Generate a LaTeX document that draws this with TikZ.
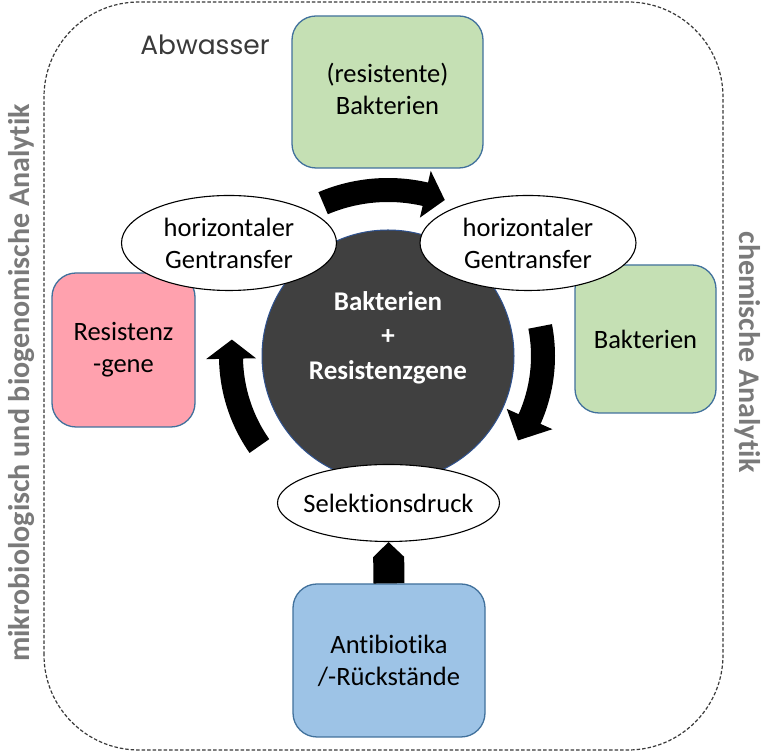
\documentclass[tikz,border=0pt]{standalone}
\usepackage{fontspec}
\setmainfont{Carlito}[Ligatures=NoCommon]
\newfontfamily\gothicfont{Poppins}
\usetikzlibrary{shapes.geometric,arrows.meta}
\definecolor{boxborder}{HTML}{41719C}
\definecolor{greenfill}{HTML}{C5E0B4}
\definecolor{pinkfill}{HTML}{FFA1AE}
\definecolor{bluefill}{HTML}{9DC3E6}
\definecolor{circlefill}{HTML}{404040}
\definecolor{circleborder}{HTML}{2F528F}
\definecolor{sidegray}{HTML}{7A7A7A}
\definecolor{dashgray}{HTML}{3A3A3A}
\newcommand{\curvedarrow}[7]{% center, a1 tail, a2 head base, a3 tip, R, half width, head half width
  \fill[black, shift={(#1)}] (#2:#5+#6) arc[start angle=#2, end angle=#3, radius=#5+#6]
    -- (#3:#5+#7) -- (#4:#5) -- (#3:#5-#7) -- (#3:#5-#6)
    arc[start angle=#3, end angle=#2, radius=#5-#6] -- cycle;}
\begin{document}
\begin{tikzpicture}[x=1pt,y=1pt,
  boxbase/.style={draw=boxborder, line width=1.3pt, rounded corners=24pt, align=center,
    inner sep=0pt, font=\fontsize{26.5}{32}\selectfont},
  ovalshape/.style={ellipse, draw=black, line width=1.1pt, fill=white, inner sep=0pt},
  ovaltext/.style={align=center, font=\fontsize{26.5}{32}\selectfont},
  sidetext/.style={text=sidegray, font=\bfseries\fontsize{30}{36}\selectfont}]
\useasboundingbox (0,0) rectangle (772,752);
\fill[white] (0,0) rectangle (772,752);
% dashed outer frame
\draw[dashgray, line width=1.2pt, dash pattern=on 3.5pt off 2pt, rounded corners=95pt]
  (44,2) rectangle (723,750);
\node[text=dashgray, font=\gothicfont\fontsize{26.5}{30}\selectfont] (abw) at (205,707) {Abwasser};
% side labels
\node[sidetext, rotate=90] (mikro) at (22,369) {mikrobiologisch und biogenomische Analytik};
\node[sidetext, rotate=-90] (chem) at (748,400) {chemische Analytik};
% boxes
\node[boxbase, fill=greenfill, minimum width=191pt, minimum height=152pt] (resbak) at (387.5,660) {};
\node[align=center, font=\fontsize{26.5}{32}\selectfont] (resbaktext) at (387.5,663.5) {(resistente)\\Bakterien};
\node[boxbase, fill=greenfill, minimum width=141pt, minimum height=148pt] (bak) at (645.5,413) {Bakterien};
\node[boxbase, fill=pinkfill, minimum width=143pt, minimum height=154pt] (gene) at (123.5,402) {Resistenz\\-gene};
\node[boxbase, fill=bluefill, minimum width=192pt, minimum height=153pt] (anti) at (389,91.5) {Antibiotika\\/-Rückstände};
% central circle
\node[circle, fill=circlefill, draw=circleborder, line width=1pt, minimum size=252pt, inner sep=0pt] (ctr) at (388,396) {};
\node[text=white, align=center, font=\bfseries\fontsize{27}{34.5}\selectfont] (ctrtext) at (388,414.5) {Bakterien\\+\\Resistenzgene};
% ellipses
\node[ovalshape, minimum width=215pt, minimum height=95pt] (hgtl) at (229,509) {};
\node[ovaltext] at (hgtl) {horizontaler\\Gentransfer};
\node[ovalshape, minimum width=216pt, minimum height=95pt] (hgtr) at (528,509) {};
\node[ovaltext] at (hgtr) {horizontaler\\Gentransfer};
\node[ovalshape, minimum width=222pt, minimum height=77pt] (sel) at (388.5,249) {};
\node[ovaltext] at (sel) {Selektionsdruck};
% curved cycle arrows
\curvedarrow{ctr.center}{113}{77}{70}{166}{12}{24}
\curvedarrow{ctr.center}{11}{-24}{-33}{155}{12}{25}
\curvedarrow{ctr.center}{215}{181}{174}{157}{12}{25}
% antibiotics arrow
\draw[black, line width=31pt, -{Triangle[length=15pt, width=31pt, line width=0pt]}] (anti.north) -- (sel.south);
\end{tikzpicture}
\end{document}
